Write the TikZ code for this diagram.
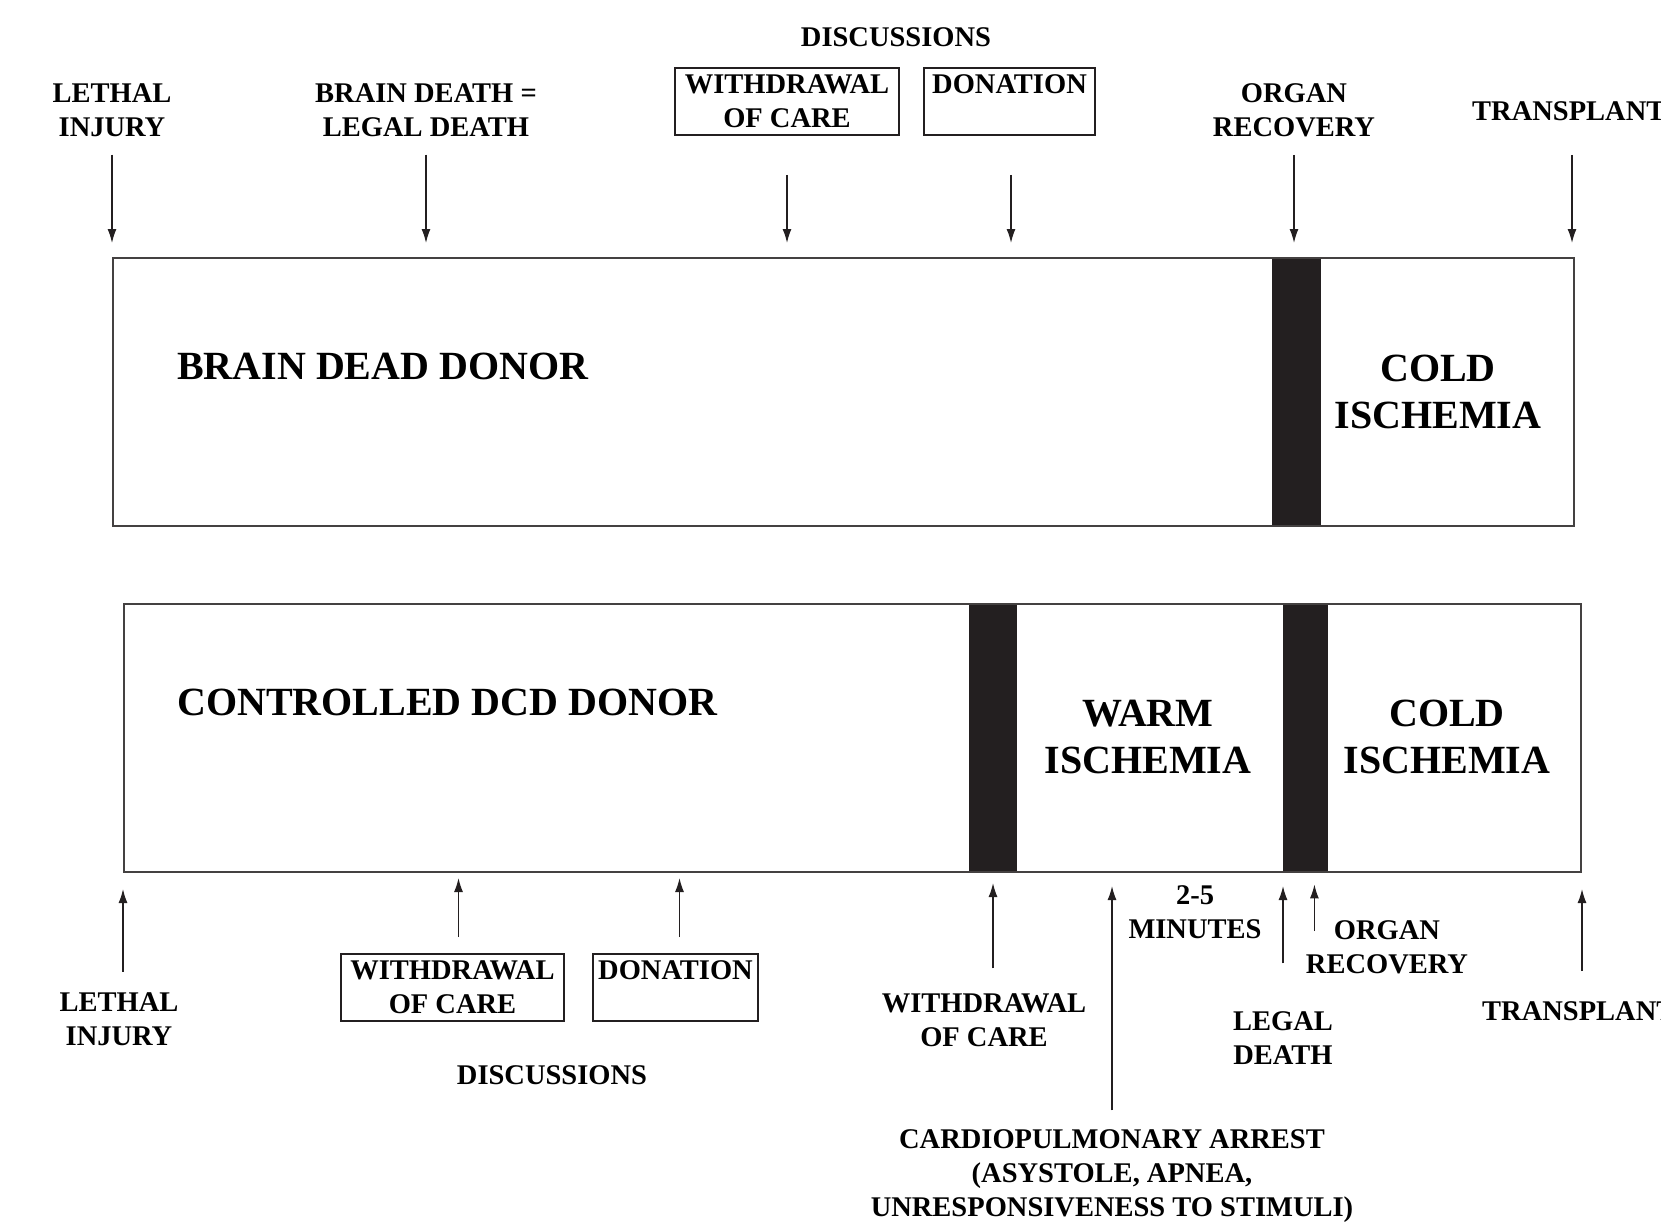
\documentclass[tikz,border=0pt]{standalone}
\usepackage{fontspec}
\setmainfont{Liberation Serif}
\usetikzlibrary{positioning, arrows.meta}
\definecolor{ink}{HTML}{231F20}

\begin{document}
\begin{tikzpicture}[x=1pt, y=-1pt,
    lbl/.style={font=\bfseries\fontsize{28.5}{34}\selectfont, align=center, inner sep=0pt},
    big/.style={font=\bfseries\fontsize{40}{47}\selectfont, align=center, inner sep=0pt},
    tag/.style={lbl, draw=ink, line width=1.6pt, minimum height=67pt},
    panel/.style={draw=ink!85, line width=2pt, anchor=north west, inner sep=0pt, minimum height=268pt},
    blk/.style={fill=ink, anchor=north west, inner sep=0pt, minimum height=268pt},
    arr/.style={-{Latex[length=14pt,width=9pt]}, line width=1.4pt, ink}]
    \useasboundingbox (0,0) rectangle (1661,1228);

    % brain dead donor
    \node[blk, minimum width=49pt] (bdbar) at (1272,257) {};
    \node[panel, minimum width=1461pt] (bd) at (112,257) {};
    \node[big, anchor=west] (bdname) at (177,366) {BRAIN DEAD DONOR};
    \node[big] (bdcold) at (1438,392) {COLD\\ISCHEMIA};

    \node[lbl] (tdisc) at (896,37) {DISCUSSIONS};
    \node[lbl] (tinjury) at (112,110) {LETHAL\\INJURY};
    \node[lbl] (tbrain) at (426,110) {BRAIN DEATH =\\LEGAL DEATH};
    \node[tag, minimum width=224pt] (twithdraw) at (787,101.5) {WITHDRAWAL\\OF CARE};
    \node[tag, minimum width=171pt] (tdonate) at (1009.5,101.5) {DONATION\\\mbox{}};
    \node[lbl] (torgan) at (1294,110) {ORGAN\\RECOVERY};
    \node[lbl, anchor=west] (ttransplant) at (1472,111) {TRANSPLANT};

    \draw[arr, shorten <=18pt, shorten >=14pt] (tinjury.south) -- (tinjury.south |- bd.north);
    \draw[arr, shorten <=18pt, shorten >=14pt] (tbrain.south) -- (tbrain.south |- bd.north);
    \draw[arr, shorten <=39pt, shorten >=14pt] (twithdraw.south) -- (twithdraw.south |- bd.north);
    \draw[arr, shorten <=39pt, shorten >=14pt] ([xshift=1.5pt]tdonate.south) -- ([xshift=1.5pt]tdonate.south |- bd.north);
    \draw[arr, shorten <=18pt, shorten >=14pt] (torgan.south) -- (torgan.south |- bd.north);
    \draw[arr, shorten <=34pt, shorten >=14pt] ([xshift=-3pt]bd.north east |- ttransplant.south) -- ([xshift=-3pt]bd.north east);

    % controlled dcd donor
    \node[blk, minimum width=48pt] (dcdbar1) at (969,603) {};
    \node[blk, minimum width=45pt] (dcdbar2) at (1283,603) {};
    \node[panel, minimum width=1457pt] (dcd) at (123,603) {};
    \node[big, anchor=west] (dcdname) at (177,702) {CONTROLLED DCD DONOR};
    \node[big] (dcdwarm) at (1148,737) {WARM\\ISCHEMIA};
    \node[big] (dcdcold) at (1447,737) {COLD\\ISCHEMIA};

    \node[lbl] (binjury) at (119,1019.5) {LETHAL\\INJURY};
    \node[tag, minimum width=223pt] (bwithdraw) at (452.5,987.5) {WITHDRAWAL\\OF CARE};
    \node[tag, minimum width=165pt] (bdonate) at (675.5,987.5) {DONATION\\\mbox{}};
    \node[lbl] (bdisc) at (552,1075) {DISCUSSIONS};
    \node[lbl] (bstop) at (984,1020) {WITHDRAWAL\\OF CARE};
    \node[lbl] (bminutes) at (1195,912) {2-5\\MINUTES};
    \node[lbl] (borgan) at (1387,947) {ORGAN\\RECOVERY};
    \node[lbl] (blegal) at (1283,1038) {LEGAL\\DEATH};
    \node[lbl, anchor=west] (btransplant) at (1482,1011) {TRANSPLANT};
    \node[lbl] (barrest) at (1112,1176) {CARDIOPULMONARY ARREST\\(ASYSTOLE, APNEA,\\UNRESPONSIVENESS TO STIMULI)};

    \draw[arr, shorten <=21pt, shorten >=16pt] (binjury.north -| dcd.west) -- (dcd.south west);
    \draw[arr, shorten <=16pt, shorten >=5pt] ([xshift=6pt]bwithdraw.north) -- ([xshift=6pt]bwithdraw.north |- dcd.south);
    \draw[arr, shorten <=16pt, shorten >=5pt] ([xshift=4pt]bdonate.north) -- ([xshift=4pt]bdonate.north |- dcd.south);
    \draw[arr, shorten <=25pt, shorten >=10pt] ([xshift=9pt]bstop.north) -- ([xshift=9pt]bstop.north |- dcd.south);
    \draw[arr, shorten <=19pt, shorten >=13pt] (barrest.north) -- (barrest.north |- dcd.south);
    \draw[arr, shorten <=48pt, shorten >=13pt] (blegal.north) -- (blegal.north |- dcd.south);
    \draw[arr, shorten <=-11pt, shorten >=13pt] ([xshift=-14pt]dcdbar2.south east |- borgan.north) -- ([xshift=-14pt]dcdbar2.south east);
    \draw[arr, shorten <=30pt, shorten >=16pt] (dcd.east |- btransplant.north) -- (dcd.south east);
\end{tikzpicture}
\end{document}
